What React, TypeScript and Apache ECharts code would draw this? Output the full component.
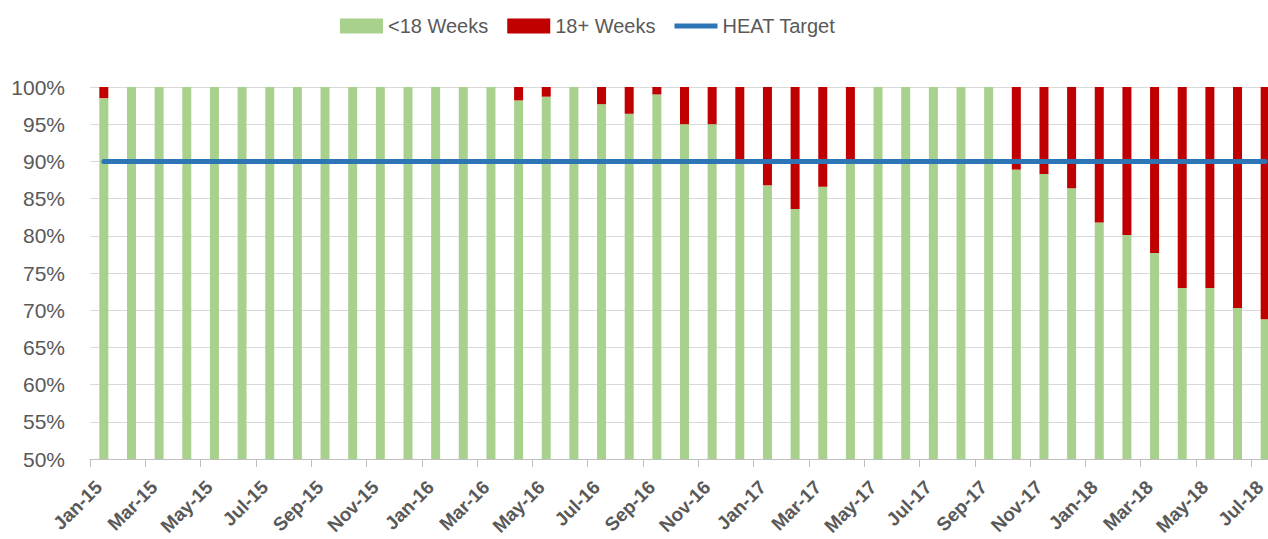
import React, { useEffect, useRef } from "react";
import * as echarts from "echarts";

const categories = [
  "Jan-15", "Feb-15", "Mar-15", "Apr-15", "May-15", "Jun-15", "Jul-15", "Aug-15", "Sep-15", "Oct-15", "Nov-15", "Dec-15",
  "Jan-16", "Feb-16", "Mar-16", "Apr-16", "May-16", "Jun-16", "Jul-16", "Aug-16", "Sep-16", "Oct-16", "Nov-16", "Dec-16",
  "Jan-17", "Feb-17", "Mar-17", "Apr-17", "May-17", "Jun-17", "Jul-17", "Aug-17", "Sep-17", "Oct-17", "Nov-17", "Dec-17",
  "Jan-18", "Feb-18", "Mar-18", "Apr-18", "May-18", "Jun-18", "Jul-18",
];

const under18Weeks = [
  98.5, 100, 100, 100, 100, 100, 100, 100, 100, 100, 100, 100,
  100, 100, 100, 98.2, 98.7, 100, 97.7, 96.4, 99.0, 95.0, 95.0, 90.3,
  86.8, 83.6, 86.6, 90.3, 100, 100, 100, 100, 100, 88.9, 88.3, 86.4,
  81.8, 80.1, 77.7, 73.0, 73.0, 70.3, 68.8,
];

const over18Weeks = [
  1.5, 0, 0, 0, 0, 0, 0, 0, 0, 0, 0, 0,
  0, 0, 0, 1.8, 1.3, 0, 2.3, 3.6, 1.0, 5.0, 5.0, 9.7,
  13.2, 16.4, 13.4, 9.7, 0, 0, 0, 0, 0, 11.1, 11.7, 13.6,
  18.2, 19.9, 22.3, 27.0, 27.0, 29.7, 31.2,
];

const heatTarget = [
  90, 90, 90, 90, 90, 90, 90, 90, 90, 90, 90, 90,
  90, 90, 90, 90, 90, 90, 90, 90, 90, 90, 90, 90,
  90, 90, 90, 90, 90, 90, 90, 90, 90, 90, 90, 90,
  90, 90, 90, 90, 90, 90, 90,
];

const FONT = "'Liberation Sans', Arial, sans-serif";
const TEXT = "#595959";

export default function App() {
  const ref = useRef<HTMLDivElement>(null);
  useEffect(() => {
    if (!ref.current) return;
    const chart = echarts.init(ref.current, undefined, { renderer: "svg" });
    chart.setOption({
      animation: false,
      textStyle: { fontFamily: FONT },
      legend: {
        left: 335,
        top: 11,
        itemWidth: 43,
        itemHeight: 15,
        itemGap: 19,
        textStyle: { fontSize: 20, color: TEXT, fontFamily: FONT },
        data: [
          { name: "<18 Weeks", icon: "rect" },
          { name: "18+ Weeks", icon: "rect" },
          { name: "HEAT Target", icon: "path://M0 0 M0 5 L43 5 L43 10 L0 10 Z M43 15" },
        ],
      },
      grid: {
        left: 90,
        width: 1189,
        top: 87,
        bottom: 80,
        containLabel: false,
        outerBoundsMode: "none",
      },
      xAxis: {
        type: "category",
        data: categories,
        boundaryGap: true,
        axisLine: { show: true, lineStyle: { color: "#BFBFBF", width: 1 } },
        axisTick: { show: true, interval: 1, alignWithLabel: false, length: 8, lineStyle: { color: "#BFBFBF" } },
        axisLabel: {
          interval: 1,
          rotate: 45,
          fontSize: 19,
          fontWeight: "bold",
          color: TEXT,
          fontFamily: FONT,
          margin: 20,
          padding: [0, 7, 0, 0],
        },
        splitLine: { show: false },
      },
      yAxis: {
        type: "value",
        min: 50,
        max: 100,
        interval: 5,
        axisLine: { show: false },
        axisTick: { show: false },
        axisLabel: { formatter: "{value}%", fontSize: 21, color: TEXT, fontFamily: FONT, margin: 25 },
        splitLine: { lineStyle: { color: "#D9D9D9", width: 1 } },
      },
      series: [
        {
          name: "<18 Weeks",
          type: "bar",
          stack: "total",
          data: under18Weeks,
          barWidth: 9,
          itemStyle: { color: "#A9D18E" },
        },
        {
          name: "18+ Weeks",
          type: "bar",
          stack: "total",
          data: over18Weeks,
          barWidth: 9,
          itemStyle: { color: "#C00000" },
        },
        {
          name: "HEAT Target",
          type: "line",
          data: heatTarget,
          symbol: "none",
          lineStyle: { color: "#2E75B6", width: 5, cap: "round" },
          itemStyle: { color: "#2E75B6" },
          z: 5,
        },
      ],
    });
    return () => chart.dispose();
  }, []);
  return (
    <div
      ref={ref}
      style={{ position: "fixed", left: 0, top: 0, width: 1268, height: 539, background: "#fff" }}
    />
  );
}
